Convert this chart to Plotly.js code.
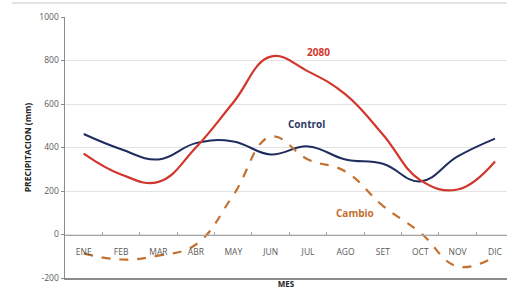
<!DOCTYPE html>
<html><head><meta charset="utf-8">
<script src="https://cdn.plot.ly/plotly-3.0.1.min.js"></script>
<style>html,body{margin:0;padding:0;background:#fff;}#chart{width:507px;height:291px;}</style>
</head><body><div id="chart"></div>
<script>
const months = ["ENE","FEB","MAR","ABR","MAY","JUN","JUL","AGO","SET","OCT","NOV","DIC"];
const control = [462, 392, 345, 420, 428, 368, 405, 345, 325, 244, 359, 441];
const futuro2080 = [372, 276, 242, 400, 607, 818, 750, 644, 460, 250, 207, 336];
const cambio = [-87, -115, -97, -46, 181, 450, 345, 290, 132, 9, -147, -101];
const yTicks = [-200, 0, 200, 400, 600, 800, 1000];

const traces = [
  {x: months, y: control, type: 'scatter', mode: 'lines', line: {color: '#1f2d5e', width: 2, shape: 'spline', smoothing: 1.2}, hoverinfo: 'skip'},
  {x: months, y: futuro2080, type: 'scatter', mode: 'lines', line: {color: '#d2352b', width: 2.2, shape: 'spline', smoothing: 1.2}, hoverinfo: 'skip'},
  {x: months, y: cambio, type: 'scatter', mode: 'lines', line: {color: '#c4702e', width: 2.2, dash: 'dash', shape: 'spline', smoothing: 1.2}, hoverinfo: 'skip'},
  {x: months, y: months.map(() => null), xaxis: 'x2', type: 'scatter', mode: 'lines', hoverinfo: 'skip', showlegend: false}
];

const layout = {
  width: 507, height: 291,
  margin: {l: 65, r: 0, t: 17, b: 13},
  paper_bgcolor: '#fff', plot_bgcolor: '#fff',
  showlegend: false,
  font: {family: 'Open Sans, Arial, sans-serif', color: '#595959'},
  xaxis: {
    type: 'category', categoryarray: months, range: [-0.5, 11.32],
    showticklabels: false, ticks: '', showgrid: false, zeroline: false,
    showline: true, linecolor: '#8c8c8c', linewidth: 1.5, mirror: false,
    title: {text: 'MES', font: {size: 8, color: '#222', family: 'Open Sans, Arial, sans-serif', weight: 'bold'}, standoff: 3}
  },
  xaxis2: {
    type: 'category', categoryarray: months, range: [-0.5, 11.32],
    overlaying: 'x', anchor: 'free', position: 200/1200, side: 'bottom',
    showline: true, linecolor: '#a6a6a6', linewidth: 1,
    ticks: 'inside', ticklen: 3, tickcolor: '#a6a6a6', tickson: 'boundaries',
    ticklabelstandoff: 9,
    showgrid: false, zeroline: false,
    tickfont: {size: 8.5, color: '#595959'}
  },
  yaxis: {
    range: [-200, 1000], tickvals: yTicks, ticktext: yTicks.map(String),
    showgrid: true, gridcolor: '#e3e3e3', gridwidth: 1, zeroline: false,
    showline: true, linecolor: '#8c8c8c', linewidth: 1.5,
    ticks: 'outside', ticklen: 3, tickcolor: '#8c8c8c',
    tickfont: {size: 8.5, color: '#595959'},
    title: {text: 'PRECIPITACION (mm)', font: {size: 8.5, color: '#222', weight: 'bold'}, standoff: 6}
  },
  shapes: [
    {type: 'line', xref: 'paper', yref: 'paper', x0: -0.12, x1: 1, y0: 1.054, y1: 1.054, line: {color: '#d9d9d9', width: 1.5}}
  ],
  annotations: [
    {x: 'JUN', y: 820, xref: 'x', yref: 'y', xshift: 48, yshift: 4, text: '<b>2080</b>', showarrow: false, font: {size: 10, color: '#d2352b'}},
    {x: 'JUL', y: 510, xref: 'x', yref: 'y', xshift: -2, text: '<b>Control</b>', showarrow: false, font: {size: 10, color: '#2b3868'}},
    {x: 'AGO', y: 100, xref: 'x', yref: 'y', xshift: 10, text: '<b>Cambio</b>', showarrow: false, font: {size: 10, color: '#c4702e'}}
  ]
};

Plotly.newPlot('chart', traces, layout, {displayModeBar: false, staticPlot: true});
</script></body></html>
